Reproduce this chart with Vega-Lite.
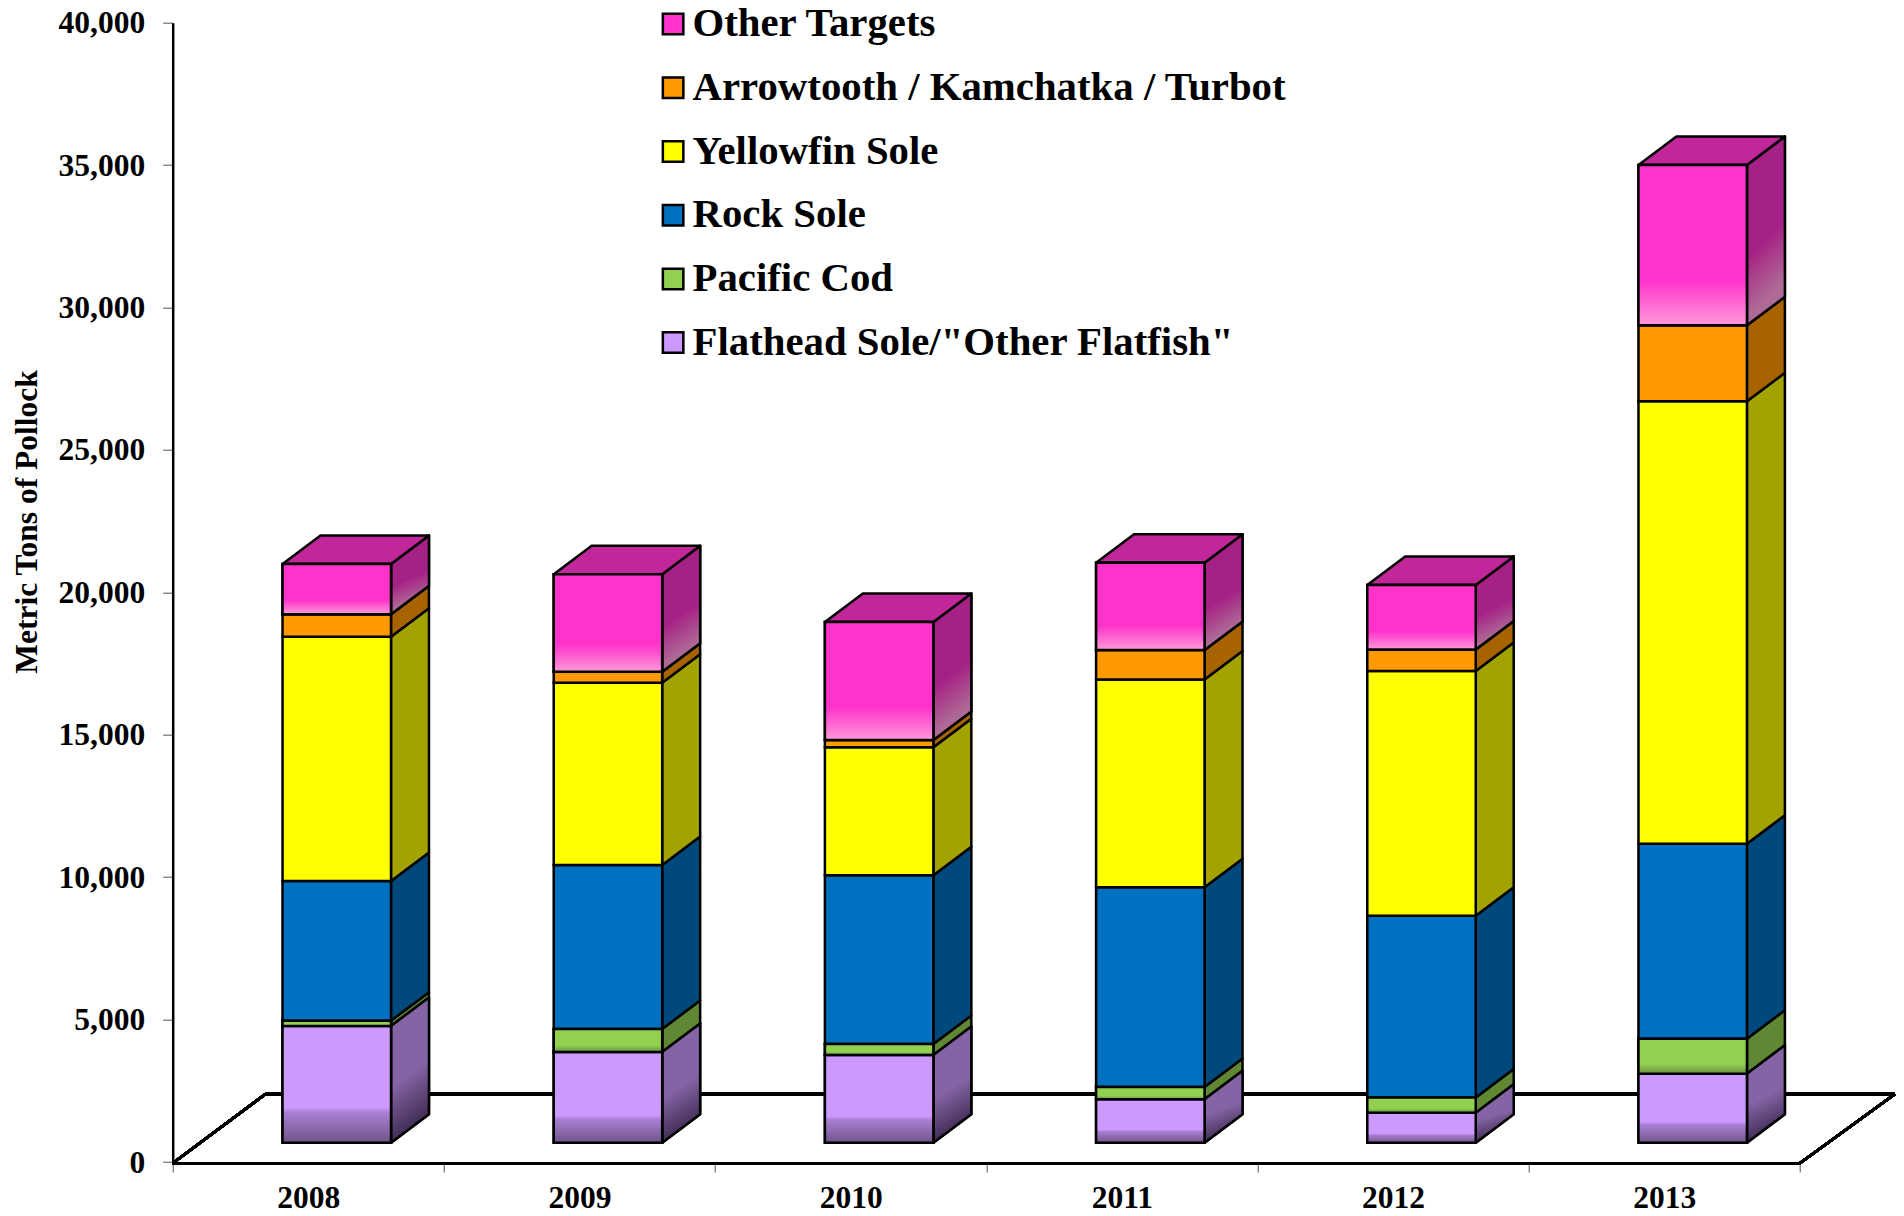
{
"$schema":"https://vega.github.io/schema/vega-lite/v6.json",
"width":1722.3,"height":1139.3,
"autosize":{"type":"none"},
"padding":{"left":172.7,"top":22.7,"right":9,"bottom":54},
"background":"white",
"view":{"stroke":null},
"config":{"font":"Liberation Serif"},
"data":{"values":[
{"year":2008,"species":"Flathead Sole/\"Other Flatfish\"","tons":4098},
{"year":2008,"species":"Pacific Cod","tons":186},
{"year":2008,"species":"Rock Sole","tons":4905},
{"year":2008,"species":"Yellowfin Sole","tons":8578},
{"year":2008,"species":"Arrowtooth / Kamchatka / Turbot","tons":787},
{"year":2008,"species":"Other Targets","tons":1766},
{"year":2009,"species":"Flathead Sole/\"Other Flatfish\"","tons":3185},
{"year":2009,"species":"Pacific Cod","tons":808},
{"year":2009,"species":"Rock Sole","tons":5758},
{"year":2009,"species":"Yellowfin Sole","tons":6401},
{"year":2009,"species":"Arrowtooth / Kamchatka / Turbot","tons":386},
{"year":2009,"species":"Other Targets","tons":3420},
{"year":2010,"species":"Flathead Sole/\"Other Flatfish\"","tons":3083},
{"year":2010,"species":"Pacific Cod","tons":383},
{"year":2010,"species":"Rock Sole","tons":5923},
{"year":2010,"species":"Yellowfin Sole","tons":4491},
{"year":2010,"species":"Arrowtooth / Kamchatka / Turbot","tons":256},
{"year":2010,"species":"Other Targets","tons":4143},
{"year":2011,"species":"Flathead Sole/\"Other Flatfish\"","tons":1524},
{"year":2011,"species":"Pacific Cod","tons":435},
{"year":2011,"species":"Rock Sole","tons":7012},
{"year":2011,"species":"Yellowfin Sole","tons":7293},
{"year":2011,"species":"Arrowtooth / Kamchatka / Turbot","tons":1032},
{"year":2011,"species":"Other Targets","tons":3062},
{"year":2012,"species":"Flathead Sole/\"Other Flatfish\"","tons":1053},
{"year":2012,"species":"Pacific Cod","tons":534},
{"year":2012,"species":"Rock Sole","tons":6380},
{"year":2012,"species":"Yellowfin Sole","tons":8596},
{"year":2012,"species":"Arrowtooth / Kamchatka / Turbot","tons":751},
{"year":2012,"species":"Other Targets","tons":2268},
{"year":2013,"species":"Flathead Sole/\"Other Flatfish\"","tons":2423},
{"year":2013,"species":"Pacific Cod","tons":1229},
{"year":2013,"species":"Rock Sole","tons":6847},
{"year":2013,"species":"Yellowfin Sole","tons":15530},
{"year":2013,"species":"Arrowtooth / Kamchatka / Turbot","tons":2669},
{"year":2013,"species":"Other Targets","tons":5632}
]},
"transform":[
{"calculate":"indexof(['Flathead Sole/\"Other Flatfish\"','Pacific Cod','Rock Sole','Yellowfin Sole','Arrowtooth / Kamchatka / Turbot','Other Targets'],datum.species)","as":"ord"},
{"stack":"tons","groupby":["year"],"sort":[{"field":"ord","order":"ascending"}],"as":["v0","v1"]},
{"calculate":"datum.v0+678","as":"yb"},
{"calculate":"datum.v1+678","as":"yt"},
{"calculate":"datum.year-2008+0.405","as":"xl"},
{"calculate":"datum.year-2008+0.805","as":"xr"}
],
"resolve":{"scale":{"fill":"independent"}},
"layer":[
{"mark":{"type":"rule","stroke":"black","strokeWidth":2.5},"encoding":{"x":{"datum":0,"type":"quantitative"},"x2":{"datum":6},"y":{"datum":-40,"type":"quantitative"},"y2":{"datum":-40}}},
{"mark":{"type":"rule","stroke":"black","strokeWidth":2.5},"encoding":{"x":{"datum":0,"type":"quantitative"},"x2":{"datum":0.3425},"y":{"datum":-40,"type":"quantitative"},"y2":{"datum":2388}}},
{"mark":{"type":"rule","stroke":"black","strokeWidth":2.5},"encoding":{"x":{"datum":0.3425,"type":"quantitative"},"x2":{"datum":6.351},"y":{"datum":2388,"type":"quantitative"},"y2":{"datum":2388}}},
{"mark":{"type":"rule","stroke":"black","strokeWidth":2.5},"encoding":{"x":{"datum":6,"type":"quantitative"},"x2":{"datum":6.351},"y":{"datum":-40,"type":"quantitative"},"y2":{"datum":2388}}},
{"transform":[{"calculate":"0","as":"s0"},{"calculate":"1","as":"s1"},{"fold":["s0","s1"],"as":["k","s"]},{"calculate":"datum.xr+datum.s*0.14","as":"sx"},{"calculate":"datum.yb+datum.s*1000","as":"sb"},{"calculate":"datum.yt+datum.s*1000","as":"st"}],
"mark":{"type":"area","orient":"vertical","stroke":"black","strokeWidth":2.5,"strokeJoin":"round"},
"encoding":{"x":{"field":"sx","type":"quantitative"},"y":{"field":"st","type":"quantitative","stack":null},"y2":{"field":"sb"},"detail":{"field":"year"},
"fill":{"field":"species","type":"nominal","legend":null,"scale":{"domain":["Other Targets","Arrowtooth / Kamchatka / Turbot","Yellowfin Sole","Rock Sole","Pacific Cod","Flathead Sole/\"Other Flatfish\""],"range":["#a62185","#a66300","#a3a300","#00497d","#5f8734","#8464a4"]}}}},
{"transform":[{"filter":"datum.species=='Other Targets'"},{"calculate":"0","as":"s0"},{"calculate":"1","as":"s1"},{"fold":["s0","s1"],"as":["k","s"]},{"calculate":"datum.xr+datum.s*0.14","as":"sx"},{"calculate":"datum.yb+datum.s*1000","as":"sb"},{"calculate":"datum.yt+datum.s*1000","as":"st"}],
"mark":{"type":"area","orient":"vertical","stroke":"black","strokeWidth":2.5,"strokeJoin":"round","fill":{"gradient":"linear","x1":0,"y1":0,"x2":0.2,"y2":1,"stops":[{"offset":0,"color":"#a62185"},{"offset":0.62,"color":"#a62185"},{"offset":0.92,"color":"#ae6a96"},{"offset":1,"color":"#ae6a96"}]}},
"encoding":{"x":{"field":"sx","type":"quantitative"},"y":{"field":"st","type":"quantitative","stack":null},"y2":{"field":"sb"},"detail":{"field":"year"}}},
{"transform":[{"filter":"datum.ord==0"},{"calculate":"0","as":"s0"},{"calculate":"1","as":"s1"},{"fold":["s0","s1"],"as":["k","s"]},{"calculate":"datum.xr+datum.s*0.14","as":"sx"},{"calculate":"datum.yb+datum.s*1000","as":"sb"},{"calculate":"datum.yt+datum.s*1000","as":"st"}],
"mark":{"type":"area","orient":"vertical","stroke":"black","strokeWidth":2.5,"strokeJoin":"round","fill":{"gradient":"linear","x1":0,"y1":0,"x2":0.2,"y2":1,"stops":[{"offset":0,"color":"#8464a4"},{"offset":0.6,"color":"#8464a4"},{"offset":0.95,"color":"#44305a"},{"offset":1,"color":"#44305a"}]}},
"encoding":{"x":{"field":"sx","type":"quantitative"},"y":{"field":"st","type":"quantitative","stack":null},"y2":{"field":"sb"},"detail":{"field":"year"}}},
{"transform":[{"filter":"datum.species=='Other Targets'"},{"calculate":"0","as":"s0"},{"calculate":"1","as":"s1"},{"fold":["s0","s1"],"as":["k","s"]},{"calculate":"datum.yt+datum.s*1000","as":"ty"},{"calculate":"datum.xl+datum.s*0.14","as":"tl"},{"calculate":"datum.xr+datum.s*0.14","as":"tr"}],
"mark":{"type":"area","orient":"horizontal","stroke":"black","strokeWidth":2.5,"strokeJoin":"round","fill":"#c1269b"},
"encoding":{"y":{"field":"ty","type":"quantitative"},"x":{"field":"tl","type":"quantitative","stack":null},"x2":{"field":"tr"},"detail":{"field":"year"}}},
{"mark":{"type":"rect","stroke":"black","strokeWidth":2.5},
"encoding":{
"x":{"field":"xl","type":"quantitative","scale":{"domain":[0,6.351],"nice":false,"zero":false},"axis":{"values":[0,0.5,1,1.5,2,2.5,3,3.5,4,4.5,5,5.5,6],"domain":false,"grid":false,"title":null,"tickSize":10,"tickWidth":1,"tickColor":"#555555","tickOpacity":{"condition":{"test":"datum.value%1","value":0},"value":1},"labelExpr":"datum.value%1 ? datum.value+2007.5 : ''","labelFont":"Liberation Serif","labelFontWeight":"bold","labelFontSize":31.5,"labelColor":"black","labelPadding":10,"labelAngle":0,"labelOverlap":false,"labelFlush":false}},
"x2":{"field":"xr"},
"y":{"field":"yb","type":"quantitative","scale":{"domain":[0,40000],"nice":false},"axis":{"values":[0,5000,10000,15000,20000,25000,30000,35000,40000],"format":",d","grid":false,"domainColor":"black","domainWidth":2.5,"tickSize":10,"tickWidth":1,"tickColor":"#555555","labelFont":"Liberation Serif","labelFontWeight":"bold","labelFontSize":31.5,"labelColor":"black","labelPadding":18,"labelOffset":1,"labelFlush":false,"title":"Metric Tons of Pollock","titleFont":"Liberation Serif","titleFontWeight":"bold","titleFontSize":31.5,"titleColor":"black","titleX":-136.5,"titleY":498.8,"titleAngle":-90,"titleBaseline":"alphabetic","titleAlign":"center"}},
"y2":{"field":"yt"},
"fill":{"field":"species","type":"nominal","scale":{"domain":["Other Targets","Arrowtooth / Kamchatka / Turbot","Yellowfin Sole","Rock Sole","Pacific Cod","Flathead Sole/\"Other Flatfish\""],"range":["#ff33cc","#ff9900","#ffff00","#0070c0","#92d050","#cc99ff"]},
"legend":{"orient":"none","legendX":480,"legendY":-19,"title":null,"symbolType":"square","symbolSize":420,"symbolStrokeColor":"black","symbolStrokeWidth":2.5,"symbolOpacity":1,"labelFont":"Liberation Serif","labelFontWeight":"bold","labelFontSize":40.8,"labelColor":"black","labelLimit":800,"labelOffset":-1,"rowPadding":21.7,"padding":0,"values":["Other Targets","Arrowtooth / Kamchatka / Turbot","Yellowfin Sole","Rock Sole","Pacific Cod","Flathead Sole/\"Other Flatfish\""]}}}},
{"transform":[{"filter":"datum.species=='Other Targets'"}],
"mark":{"type":"rect","stroke":"black","strokeWidth":2.5,"fill":{"gradient":"linear","x1":0,"y1":0,"x2":0,"y2":1,"stops":[{"offset":0,"color":"#ff33cc"},{"offset":0.72,"color":"#ff33cc"},{"offset":1,"color":"#ff99d9"}]}},
"encoding":{"x":{"field":"xl","type":"quantitative"},"x2":{"field":"xr"},"y":{"field":"yt","type":"quantitative"},"y2":{"field":"yb"}}},
{"transform":[{"filter":"datum.ord==0"}],
"mark":{"type":"rect","stroke":"black","strokeWidth":2.5,"fill":{"gradient":"linear","x1":0,"y1":0,"x2":0,"y2":1,"stops":[{"offset":0,"color":"#cc99ff"},{"offset":0.7,"color":"#cc99ff"},{"offset":0.74,"color":"#aa80d4"},{"offset":1,"color":"#705488"}]}},
"encoding":{"x":{"field":"xl","type":"quantitative"},"x2":{"field":"xr"},"y":{"field":"yt","type":"quantitative"},"y2":{"field":"yb"}}},
{"transform":[{"filter":"datum.ord==1"}],
"mark":{"type":"rect","stroke":"black","strokeWidth":2.5,"fill":{"gradient":"linear","x1":0,"y1":0,"x2":0,"y2":1,"stops":[{"offset":0,"color":"#92d050"},{"offset":0.72,"color":"#92d050"},{"offset":1,"color":"#6a8f40"}]}},
"encoding":{"x":{"field":"xl","type":"quantitative"},"x2":{"field":"xr"},"y":{"field":"yt","type":"quantitative"},"y2":{"field":"yb"}}}
]
}
